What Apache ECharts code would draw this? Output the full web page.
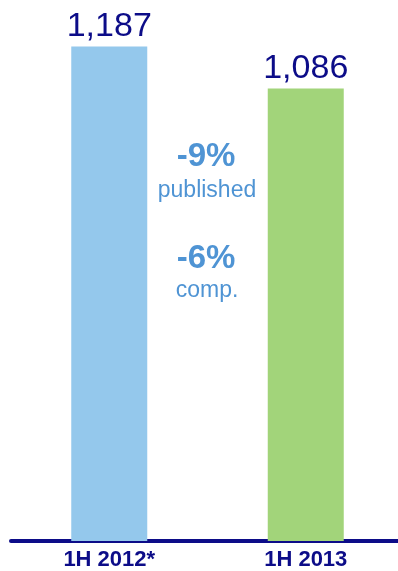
<!DOCTYPE html>
<html>
<head>
<meta charset="utf-8">
<script src="https://cdn.jsdelivr.net/npm/echarts@6/dist/echarts.min.js"></script>
<style>
  html, body { margin: 0; padding: 0; background: #fff; overflow: hidden; }
  /* the plot runs off the right edge, so the canvas is a little wider than the page */
  #chart { width: 404px; height: 571px; }
</style>
</head>
<body>
<div id="chart"></div>
<script>
// Half-year figures
const periods = ['1H 2012*', '1H 2013'];
const values = [1187, 1086];
const barColors = ['#94C8EC', '#A2D47A'];
// Change annotations between the bars
const changeLines = ['-9%', 'published', '-6%', 'comp.'];

const FONT = '"Liberation Sans", Arial, sans-serif';
const NAVY = '#0C0C88';
const ACCENT = '#4F94D4';

const chart = echarts.init(document.getElementById('chart'), null, { renderer: 'canvas' });

chart.setOption({
  animation: false,
  backgroundColor: '#ffffff',
  grid: { left: 11, right: 0, top: 41, bottom: 29, containLabel: false },
  xAxis: {
    type: 'category',
    data: periods,
    axisLine: { show: true, lineStyle: { color: NAVY, width: 4 } },
    axisTick: { show: false },
    axisLabel: {
      color: NAVY, fontFamily: FONT, fontWeight: 'bold', fontSize: 22, margin: 8
    }
  },
  yAxis: {
    type: 'value',
    min: 0,
    max: 1200,
    show: false,
    splitLine: { show: false }
  },
  series: [{
    type: 'bar',
    barWidth: 76,
    data: values.map((v, i) => ({ value: v, itemStyle: { color: barColors[i] } })),
    label: {
      show: true,
      position: 'top',
      distance: 3,
      color: NAVY,
      fontFamily: FONT,
      fontSize: 34,
      formatter: p => p.value.toLocaleString('en-US')
    }
  }],
  graphic: [
    { type: 'text', x: 206, y: 157, style: { text: changeLines[0], fill: ACCENT, font: 'bold 33px ' + FONT, align: 'center', verticalAlign: 'middle' } },
    { type: 'text', x: 207, y: 191, style: { text: changeLines[1], fill: ACCENT, font: '23px ' + FONT, align: 'center', verticalAlign: 'middle' } },
    { type: 'text', x: 206, y: 259, style: { text: changeLines[2], fill: ACCENT, font: 'bold 33px ' + FONT, align: 'center', verticalAlign: 'middle' } },
    { type: 'text', x: 207, y: 291, style: { text: changeLines[3], fill: ACCENT, font: '23px ' + FONT, align: 'center', verticalAlign: 'middle' } }
  ]
});
</script>
</body>
</html>
